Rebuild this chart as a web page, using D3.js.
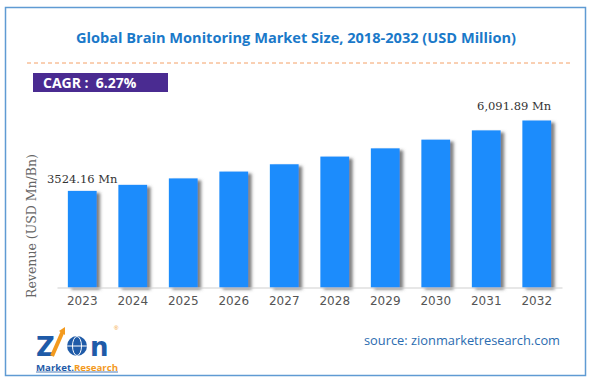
<!DOCTYPE html>
<html><head><meta charset="utf-8">
<script src="https://cdn.jsdelivr.net/npm/d3@7/dist/d3.min.js"></script>
<style>html,body{margin:0;padding:0;background:#fff}svg{display:block}</style>
</head><body>
<svg id="chart" width="593" height="382"></svg>
<script>
const years = ["2023","2024","2025","2026","2027","2028","2029","2030","2031","2032"];
const revenue = [3524.16, 3745, 3980, 4229, 4495, 4776, 5076, 5394, 5732, 6091.89];
const firstLabel = "3524.16 Mn";
const lastLabel = "6,091.89 Mn";
const titleText = "Global Brain Monitoring Market Size, 2018-2032 (USD Million)";
const cagrText = "CAGR :  6.27%";
const yAxisTitle = "Revenue (USD Mn/Bn)";
const sourceText = "source: zionmarketresearch.com";

const svg = d3.select("#chart");

// frame
svg.append("rect").attr("x",5.5).attr("y",7.5).attr("width",580).attr("height",368)
  .attr("fill","#fff").attr("stroke","#5f9bd3").attr("stroke-width",1.5);

// title
svg.append("text").attr("x",296).attr("y",43).attr("text-anchor","middle")
  .attr("font-family","'Open Sans', sans-serif").attr("font-weight",700).attr("font-size",14.4)
  .attr("fill","#1a79c9").attr("textLength",440).attr("lengthAdjust","spacingAndGlyphs").text(titleText);

// dashed line
svg.append("line").attr("x1",27).attr("x2",570).attr("y1",63).attr("y2",63)
  .attr("stroke","#f4a066").attr("stroke-width",1).attr("stroke-dasharray","4,3");

// CAGR box
svg.append("rect").attr("x",33).attr("y",73).attr("width",135).attr("height",19).attr("fill","#4a2b91");
svg.append("text").attr("x",43).attr("y",88).attr("font-family","'Open Sans', sans-serif")
  .attr("font-weight",700).attr("font-size",14).attr("fill","#fff").attr("xml:space","preserve").text(cagrText);

// scales
const x = d3.scaleBand().domain(years).range([57,562]).paddingInner(0.43).paddingOuter(0.215);
const y = d3.scaleLinear().domain([0, 6091.89]).range([287.5, 120.5]);

const defs = svg.append("defs");
const f = defs.append("filter").attr("id","sh").attr("x","-20%").attr("y","-10%").attr("width","160%").attr("height","130%");
f.append("feDropShadow").attr("dx",3.5).attr("dy",2).attr("stdDeviation",1.6)
  .attr("flood-color","#555").attr("flood-opacity",0.75);

svg.append("g").selectAll("rect").data(years).join("rect")
  .attr("x",d=>x(d)).attr("width",x.bandwidth())
  .attr("y",(d,i)=>y(revenue[i])).attr("height",(d,i)=>y(0)-y(revenue[i]))
  .attr("fill","#1b8cfc").attr("filter","url(#sh)");

// x axis
const xa = svg.append("g").attr("transform",`translate(0,${y(0)})`)
  .call(d3.axisBottom(x).tickSize(0).tickPadding(9));
xa.select(".domain").attr("stroke","#d0d0d0").attr("stroke-width",1.2);
xa.selectAll("text").attr("font-family","'DejaVu Sans', Verdana, sans-serif").attr("font-size",12)
  .attr("fill","#555");

// y axis title
svg.append("text").attr("transform","translate(36,226) rotate(-90)").attr("text-anchor","middle")
  .attr("font-family","'DejaVu Serif', Georgia, serif").attr("font-size",12.5).attr("fill","#666")
  .text(yAxisTitle);

// value labels
svg.append("text").attr("x",x(years[0]) + x.bandwidth()/2).attr("y",y(revenue[0]) - 8)
  .attr("text-anchor","middle").attr("font-family","'DejaVu Serif', Georgia, serif").attr("font-size",11.5)
  .attr("fill","#333").text(firstLabel);
svg.append("text").attr("x",x(years[9]) + x.bandwidth()).attr("y",y(revenue[9]) - 11)
  .attr("text-anchor","end").attr("font-family","'DejaVu Serif', Georgia, serif").attr("font-size",11.5)
  .attr("fill","#333").text(lastLabel);

// source
svg.append("text").attr("x",560).attr("y",345).attr("text-anchor","end")
  .attr("font-family","'Open Sans', sans-serif").attr("font-size",13.5).attr("fill","#2b6cb0")
  .attr("textLength",196).attr("lengthAdjust","spacingAndGlyphs").text(sourceText);

// logo
const lg = svg.append("g");
lg.append("text").attr("x",36).attr("y",356).attr("font-family","'DejaVu Sans', sans-serif")
  .attr("font-weight",700).attr("font-size",26).attr("fill","#1f5ba8").text("Z");
lg.append("path").attr("d","M52,356 L63,331").attr("stroke","#f39a1e").attr("stroke-width",4);
lg.append("path").attr("d","M59,331 L65,327 L65,335 Z").attr("fill","#f39a1e");
lg.append("circle").attr("cx",77).attr("cy",346).attr("r",10).attr("fill","#1f5ba8");
lg.append("ellipse").attr("cx",77).attr("cy",346).attr("rx",4.5).attr("ry",9.5).attr("fill","none").attr("stroke","#fff").attr("stroke-width",1);
lg.append("line").attr("x1",67).attr("x2",87).attr("y1",346).attr("y2",346).attr("stroke","#fff").attr("stroke-width",1);
lg.append("text").attr("x",90).attr("y",356).attr("font-family","'DejaVu Sans', sans-serif")
  .attr("font-weight",700).attr("font-size",26).attr("fill","#1f5ba8").text("n");
lg.append("text").attr("x",114).attr("y",330).attr("font-size",6).attr("fill","#f39a1e").attr("font-family","sans-serif").text("®");
const mr = lg.append("text").attr("x",36).attr("y",370.5).attr("font-family","'Open Sans', sans-serif")
  .attr("font-weight",700).attr("font-size",9).attr("textLength",82).attr("lengthAdjust","spacingAndGlyphs");
mr.append("tspan").attr("fill","#1f5ba8").text("Market.");
mr.append("tspan").attr("fill","#f39a1e").text("Research");
lg.append("line").attr("x1",36).attr("x2",118).attr("y1",372).attr("y2",372).attr("stroke","#1f5ba8").attr("stroke-width",0.8);
</script>
</body></html>
